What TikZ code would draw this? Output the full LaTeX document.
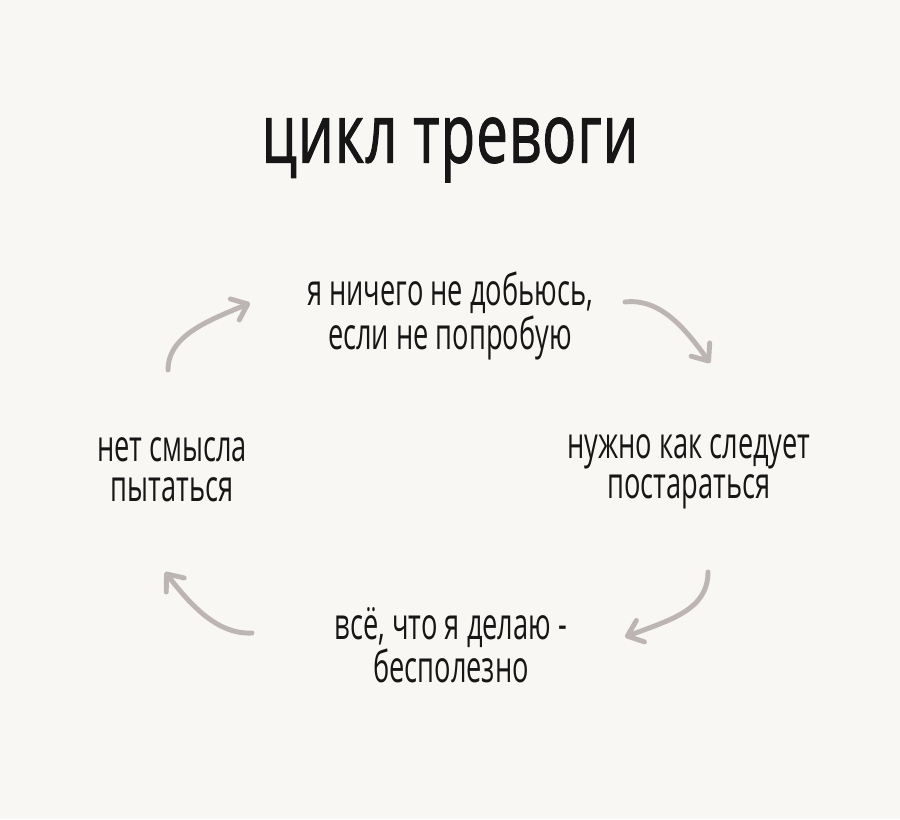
\documentclass[tikz,border=0pt]{standalone}
\usepackage{fontspec}
\setmainfont{Open Sans}[FakeStretch=0.62]
\newfontfamily\headfont{Open Sans}[FakeStretch=0.68, LetterSpace=1.5, FakeBold=1.2]
\usetikzlibrary{arrows.meta}
\definecolor{paper}{HTML}{F8F7F4}
\definecolor{pencil}{HTML}{BDB5B3}
\definecolor{ink}{HTML}{161616}

\begin{document}
\begin{tikzpicture}[x = 0.02cm, y = -0.02cm,
    thought/.style = {align = center, text = ink, inner sep = 0pt, font = \fontsize{25}{22.8}\selectfont},
    loop arrow/.style = {draw = pencil, line width = 2.8pt, line cap = round, -{Straight Barb[length = 8pt, width = 13pt, round]}}]
    \fill [paper] (0,0) rectangle (900,819);
    \node [text = ink, inner sep = 0pt, font = \headfont\fontsize{47}{50}\selectfont] (title) at (450,150) {цикл тревоги};
    \node [thought] (try) at (450,316) {я ничего не добьюсь,\\если не попробую};
    \node [thought] (effort) at (689,472) {нужно как следует\\постараться};
    \node [thought] (useless) at (451,645) {всё, что я делаю -\\бесполезно};
    \node [thought] (pointless) at (172,470) {нет смысла\\пытаться};
    % ends of the four arrows
    \coordinate (a1) at (168,370); \coordinate (b1) at (250,303);
    \coordinate (a2) at (625,302); \coordinate (b2) at (710,363);
    \coordinate (a3) at (708,572); \coordinate (b3) at (625,637);
    \coordinate (a4) at (252,633); \coordinate (b4) at (165,572);
    \draw [loop arrow] (a1) .. controls (168,335) and (210,320) .. (b1);
    \draw [loop arrow] (a2) .. controls (660,298) and (685,328) .. (b2);
    \draw [loop arrow] (a3) .. controls (708,610) and (670,620) .. (b3);
    \draw [loop arrow] (a4) .. controls (215,635) and (187,600) .. (b4);
\end{tikzpicture}
\end{document}
